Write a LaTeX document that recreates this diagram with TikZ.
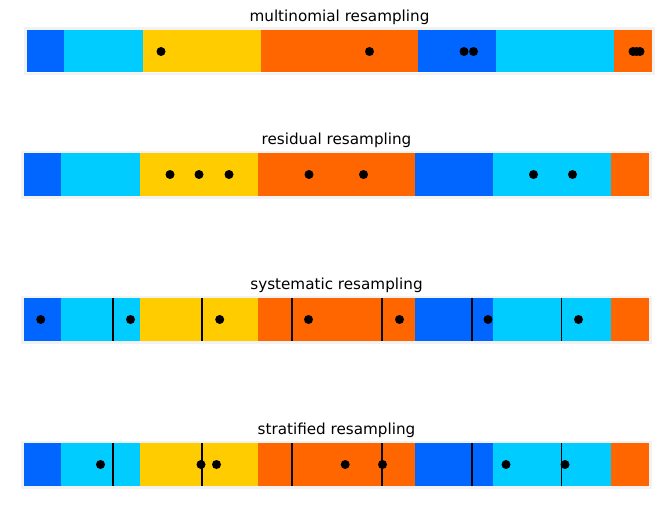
\documentclass[tikz,border=0pt]{standalone}
\usepackage{fontspec}
\setmainfont{DejaVu Sans}
\definecolor{cblue}{RGB}{0,102,255}
\definecolor{ccyan}{RGB}{0,204,255}
\definecolor{cyellow}{RGB}{255,204,0}
\definecolor{corange}{RGB}{255,102,0}
\definecolor{cframe}{RGB}{242,242,242}
\newcommand\resbar[2]{%
  \fill[cblue]   (#1,#2) rectangle ++(37,42.5);
  \fill[ccyan]   (#1+37,#2) rectangle (#1+115.5,#2+42.5);
  \fill[cyellow] (#1+115.5,#2) rectangle (#1+234,#2+42.5);
  \fill[corange] (#1+234,#2) rectangle (#1+391,#2+42.5);
  \fill[cblue]   (#1+391,#2) rectangle (#1+469,#2+42.5);
  \fill[ccyan]   (#1+469,#2) rectangle (#1+587,#2+42.5);
  \fill[corange] (#1+587,#2) rectangle (#1+625,#2+42.5);
  \draw[framebox] (#1-1.5,#2-1.5) rectangle (#1+626.5,#2+44);
}
\tikzset{
  framebox/.style={draw=cframe,line width=2.5pt},
  dot/.style={circle,fill=black,minimum size=9pt,inner sep=0pt},
  divider/.style={black,line width=1.8pt},
  ttl/.style={anchor=base,font=\fontsize{15.2}{17}\selectfont,inner sep=0pt}
}
\begin{document}
\begin{tikzpicture}[x=1pt,y=-1pt]
\useasboundingbox[fill=white] (0,0) rectangle (672,508);
% titles
\node[ttl] (t1) at (339.5,21.5) {multinomial resampling};
\node[ttl] (t2) at (336.5,144.5) {residual resampling};
\node[ttl] (t3) at (336.5,289.5) {systematic resampling};
\node[ttl] (t4) at (336.5,434.5) {stratified resampling};
% bars
\resbar{27}{30}
\resbar{24}{153.3}
\resbar{24}{298.3}
\resbar{24}{443.3}
% dividers
\foreach \x in {112.7,202,292.2,382.2,472.2,561.4}{
  \draw[divider] (\x,298.3) -- (\x,340.8);
  \draw[divider] (\x,443.3) -- (\x,485.8);
}
% multinomial
\foreach \x [count=\i] in {161,369.5,464,473.5,633,636.5,640}
  \node[dot] (m\i) at (\x,51.5) {};
% residual
\foreach \x [count=\i] in {170,199,229,309,363.5,533.5,572.5}
  \node[dot] (r\i) at (\x,174.5) {};
% systematic
\foreach \x [count=\i] in {40.7,130.5,219.7,308.5,399.5,488,578.5}
  \node[dot] (s\i) at (\x,319.5) {};
% stratified
\foreach \x [count=\i] in {100.5,201,216.5,345.2,382.5,506,565}
  \node[dot] (f\i) at (\x,464.5) {};
\end{tikzpicture}
\end{document}
